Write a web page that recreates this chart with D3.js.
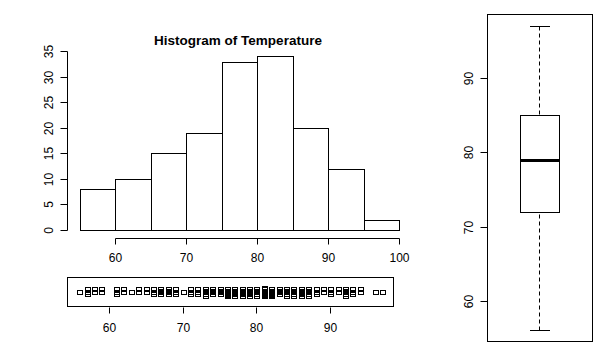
<!DOCTYPE html>
<html>
<head>
<meta charset="utf-8">
<script src="https://cdn.jsdelivr.net/npm/d3@7"></script>
<style>
  html, body { margin: 0; padding: 0; background: #fff; }
  svg { display: block; font-family: "Liberation Sans", Arial, sans-serif; }
  text { fill: #000; }
</style>
</head>
<body>
<svg id="chart" width="600" height="350"></svg>
<script>
// Daily maximum temperature (°F), May–September
const tempMay = [67,72,74,62,56,66,65,59,61,69,74,69,66,68,58,64,66,57,68,62,59,73,61,61,57,58,57,67,81,79,76];
const tempJun = [78,74,67,84,85,79,82,87,90,87,93,92,82,80,79,77,72,65,73,76,77,76,76,76,75,78,73,80,77,83];
const tempJul = [84,85,81,84,83,83,88,92,92,89,82,73,81,91,80,81,82,84,87,85,74,81,82,86,85,82,86,88,86,83,81];
const tempAug = [81,81,82,86,85,87,89,90,90,92,86,86,82,80,79,77,79,76,78,78,77,72,75,79,81,86,88,97,94,96,94];
const tempSep = [91,92,93,93,87,84,80,78,75,73,81,76,77,71,71,78,67,76,68,82,64,71,81,69,63,70,77,75,76,68];
const temps = [...tempMay, ...tempJun, ...tempJul, ...tempAug, ...tempSep];

const binBreaks = [55, 60, 65, 70, 75, 80, 85, 90, 95, 100];
const histXTicks = [60, 70, 80, 90, 100];
const histYTicks = [0, 5, 10, 15, 20, 25, 30, 35];
const stripTicks = [60, 70, 80, 90];
const boxTicks = [60, 70, 80, 90];
const titleText = "Histogram of Temperature";

const svg = d3.select("#chart");
const ink = "#000";

// Right-closed bins (a, b], first bin includes its left edge
const bins = binBreaks.slice(0, -1).map((a, i) => {
  const b = binBreaks[i + 1];
  const count = temps.filter(t => (i === 0 ? t >= a : t > a) && t <= b).length;
  return { x0: a, x1: b, count };
});

// ---------- Histogram ----------
const hx = d3.scaleLinear().domain([60, 100]).range([115.3, 399.3]);
const hy = d3.scaleLinear().domain([0, 35]).range([230, 51.3]);

svg.append("g").selectAll("rect").data(bins).join("rect")
  .attr("x", d => Math.round(hx(d.x0)) + 0.5)
  .attr("y", d => Math.round(hy(d.count)) + 0.5)
  .attr("width", d => Math.round(hx(d.x1)) - Math.round(hx(d.x0)))
  .attr("height", d => Math.round(hy(0)) - Math.round(hy(d.count)))
  .attr("fill", "none").attr("stroke", ink).attr("stroke-width", 1);

// x axis
const hxAxis = svg.append("g").attr("transform", "translate(0.5,238.5)");
hxAxis.append("line").attr("x1", Math.round(hx(60))).attr("x2", Math.round(hx(100)))
  .attr("stroke", ink);
hxAxis.selectAll("line.tick").data(histXTicks).join("line").attr("class", "tick")
  .attr("x1", d => Math.round(hx(d))).attr("x2", d => Math.round(hx(d)))
  .attr("y1", 0).attr("y2", 6).attr("stroke", ink);
hxAxis.selectAll("text").data(histXTicks).join("text")
  .attr("x", d => Math.round(hx(d))).attr("y", 19)
  .attr("text-anchor", "middle").attr("dominant-baseline", "central")
  .attr("font-size", 12).text(d => d);

// y axis
const hyAxis = svg.append("g").attr("transform", "translate(67.5,0.5)");
hyAxis.append("line").attr("y1", Math.round(hy(0))).attr("y2", Math.round(hy(35)))
  .attr("stroke", ink);
hyAxis.selectAll("line.tick").data(histYTicks).join("line").attr("class", "tick")
  .attr("y1", d => Math.round(hy(d))).attr("y2", d => Math.round(hy(d)))
  .attr("x1", 0).attr("x2", -7).attr("stroke", ink);
hyAxis.selectAll("text").data(histYTicks).join("text")
  .attr("transform", d => `translate(-19,${Math.round(hy(d))}) rotate(-90)`)
  .attr("text-anchor", "middle").attr("dominant-baseline", "central")
  .attr("font-size", 12).text(d => d);

svg.append("text").attr("x", 238).attr("y", 45)
  .attr("text-anchor", "middle").attr("font-size", 13.5).attr("font-weight", "bold")
  .text(titleText);

// ---------- Strip chart ----------
const sx = d3.scaleLinear().domain([60, 90]).range([108.7, 330.3]);
svg.append("rect").attr("x", 67.5).attr("y", 277.5).attr("width", 326).attr("height", 29)
  .attr("fill", "none").attr("stroke", ink);

// spread repeated values vertically with a fixed low-discrepancy offset
const seen = new Map();
const stripPts = temps.map(t => {
  const k = seen.get(t) || 0;
  seen.set(t, k + 1);
  const off = (((k * 0.618034 + 0.5) % 1) - 0.5) * 9;
  return { t, off };
});
svg.append("g").selectAll("rect").data(stripPts).join("rect")
  .attr("x", d => Math.round(sx(d.t)) - 2 + 0.5)
  .attr("y", d => Math.round(292 + d.off) - 2 + 0.5)
  .attr("width", 5).attr("height", 4)
  .attr("fill", "none").attr("stroke", ink);

const sAxis = svg.append("g").attr("transform", "translate(0.5,307.5)");
sAxis.selectAll("line").data(stripTicks).join("line")
  .attr("x1", d => Math.round(sx(d))).attr("x2", d => Math.round(sx(d)))
  .attr("y1", 0).attr("y2", 6).attr("stroke", ink);
sAxis.selectAll("text").data(stripTicks).join("text")
  .attr("x", d => Math.round(sx(d))).attr("y", 20)
  .attr("text-anchor", "middle").attr("dominant-baseline", "central")
  .attr("font-size", 12).text(d => d);

// ---------- Box plot ----------
const sorted = temps.slice().sort(d3.ascending);
const n = sorted.length;
const half = Math.floor((n + 3) / 2) / 2;
const fiveNum = [
  sorted[0],
  (sorted[Math.floor(half) - 1] + sorted[Math.ceil(half) - 1]) / 2,
  d3.median(sorted),
  (sorted[n - Math.ceil(half)] + sorted[n - Math.floor(half)]) / 2,
  sorted[n - 1]
];
const by = d3.scaleLinear().domain([60, 90]).range([300.7, 78.3]);
const bcx = 539.5;

svg.append("rect").attr("x", 487.5).attr("y", 14.5).attr("width", 105).attr("height", 327)
  .attr("fill", "none").attr("stroke", ink);

const bAxis = svg.append("g").attr("transform", "translate(487.5,0.5)");
bAxis.selectAll("line").data(boxTicks).join("line")
  .attr("y1", d => Math.round(by(d))).attr("y2", d => Math.round(by(d)))
  .attr("x1", 0).attr("x2", -7).attr("stroke", ink);
bAxis.selectAll("text").data(boxTicks).join("text")
  .attr("transform", d => `translate(-19,${Math.round(by(d))}) rotate(-90)`)
  .attr("text-anchor", "middle").attr("dominant-baseline", "central")
  .attr("font-size", 12).text(d => d);

const bg = svg.append("g");
// whiskers
bg.append("line").attr("x1", bcx).attr("x2", bcx)
  .attr("y1", Math.round(by(fiveNum[0])) + 0.5).attr("y2", Math.round(by(fiveNum[1])) + 0.5)
  .attr("stroke", ink).attr("stroke-dasharray", "4,3");
bg.append("line").attr("x1", bcx).attr("x2", bcx)
  .attr("y1", Math.round(by(fiveNum[4])) + 0.5).attr("y2", Math.round(by(fiveNum[3])) + 0.5)
  .attr("stroke", ink).attr("stroke-dasharray", "4,3");
[fiveNum[0], fiveNum[4]].forEach(v => {
  bg.append("line").attr("x1", 530).attr("x2", 550)
    .attr("y1", Math.round(by(v)) + 0.5).attr("y2", Math.round(by(v)) + 0.5)
    .attr("stroke", ink);
});
// box
bg.append("rect").attr("x", 520.5)
  .attr("y", Math.round(by(fiveNum[3])) + 0.5)
  .attr("width", 39)
  .attr("height", Math.round(by(fiveNum[1])) - Math.round(by(fiveNum[3])))
  .attr("fill", "#fff").attr("stroke", ink);
// median
bg.append("line").attr("x1", 520.5).attr("x2", 559.5)
  .attr("y1", Math.round(by(fiveNum[2])) + 0.5).attr("y2", Math.round(by(fiveNum[2])) + 0.5)
  .attr("stroke", ink).attr("stroke-width", 3);
</script>
</body>
</html>
